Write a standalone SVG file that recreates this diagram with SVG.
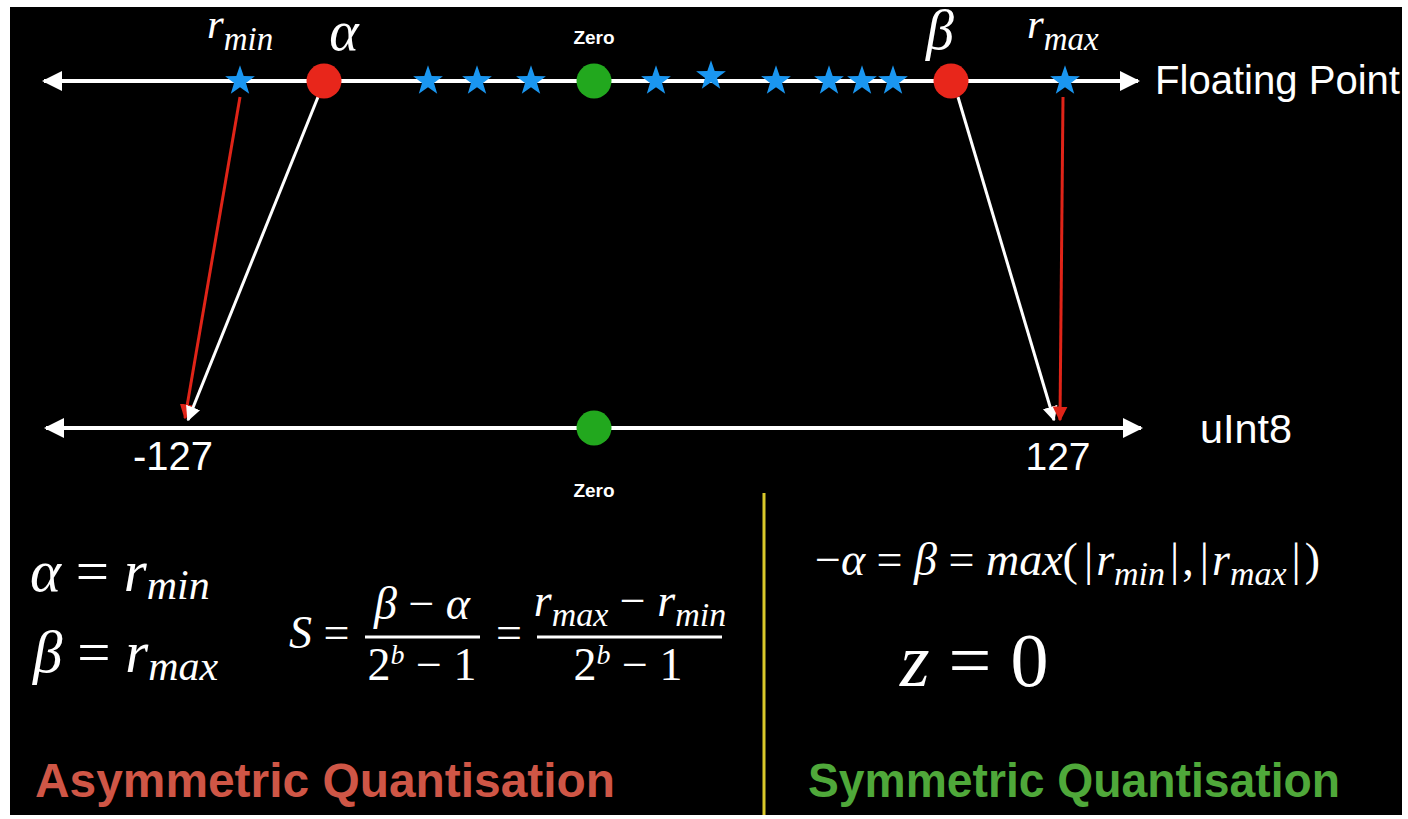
<svg xmlns="http://www.w3.org/2000/svg" width="1408" height="819" viewBox="0 0 1408 819">
<style>
.ax{stroke:#fff;stroke-width:4;fill:none}
.sans{font-family:"Liberation Sans",Arial,Helvetica,sans-serif;fill:#fff}
.math{font-family:"Liberation Serif","Times New Roman",serif;font-style:italic;fill:#fff}
.up{font-style:normal}
.star{fill:#1a96f0}
.red{fill:#e8261b}
.grn{fill:#22a81e}
.wl{stroke:#fff;stroke-width:3;fill:none}
.rl{stroke:#e02418;stroke-width:3;fill:none}
.bar{stroke:#fff;stroke-width:3}
</style>
<defs>
<path id="star" d="M0,-15.7 L3.68,-5.07 L14.9,-4.85 L5.97,1.94 L9.22,12.69 L0,6.27 L-9.22,12.69 L-5.97,1.94 L-14.9,-4.85 L-3.68,-5.07 Z"/>
<marker id="ah" viewBox="0 0 10 10" refX="9" refY="5" markerWidth="5" markerHeight="5" orient="auto-start-reverse" markerUnits="strokeWidth"><path d="M0,0 L10,5 L0,10 Z" fill="#fff"/></marker>
<marker id="ahw" viewBox="0 0 10 10" refX="9" refY="5" markerWidth="5" markerHeight="5" orient="auto" markerUnits="strokeWidth"><path d="M0,0 L10,5 L0,10 Z" fill="#fff"/></marker>
<marker id="ahr" viewBox="0 0 10 10" refX="9" refY="5" markerWidth="5" markerHeight="5" orient="auto" markerUnits="strokeWidth"><path d="M0,0 L10,5 L0,10 Z" fill="#e02418"/></marker>
</defs>
<rect x="0" y="0" width="1408" height="819" fill="#fff"/>
<rect x="10" y="7" width="1392" height="808" fill="#000"/>

<g id="float-axis">
<line class="ax" x1="44" y1="81" x2="1138" y2="81" marker-start="url(#ah)" marker-end="url(#ah)"/>
<text class="sans" x="1155" y="94" font-size="40" textLength="245" lengthAdjust="spacingAndGlyphs">Floating Point</text>
</g>
<g id="uint8-axis">
<line class="ax" x1="46" y1="428" x2="1141" y2="428" marker-start="url(#ah)" marker-end="url(#ah)"/>
<text class="sans" x="1200" y="443" font-size="41" textLength="92" lengthAdjust="spacingAndGlyphs">uInt8</text>
<text class="sans" x="173" y="470" font-size="40" text-anchor="middle">-127</text>
<text class="sans" x="1058" y="470" font-size="39" text-anchor="middle">127</text>
</g>

<g id="connectors">
<line class="rl" x1="240" y1="97" x2="185" y2="418" marker-end="url(#ahr)"/>
<line class="wl" x1="318" y1="97" x2="188" y2="420" marker-end="url(#ahw)"/>
<line class="wl" x1="958" y1="97" x2="1054" y2="420" marker-end="url(#ahw)"/>
<line class="rl" x1="1063" y1="97" x2="1060" y2="420" marker-end="url(#ahr)"/>
</g>

<g id="stars">
<use href="#star" class="star" x="240" y="81"/>
<use href="#star" class="star" x="428" y="81"/>
<use href="#star" class="star" x="477" y="81"/>
<use href="#star" class="star" x="531" y="81"/>
<use href="#star" class="star" x="656" y="81"/>
<use href="#star" class="star" x="711" y="76"/>
<use href="#star" class="star" x="776" y="81"/>
<use href="#star" class="star" x="829" y="81"/>
<use href="#star" class="star" x="862" y="81"/>
<use href="#star" class="star" x="893" y="81"/>
<use href="#star" class="star" x="1065" y="81"/>
</g>

<g id="alpha-point">
<circle class="red" cx="324" cy="81" r="17.5"/>
<text class="math" x="344" y="50" font-size="56" text-anchor="middle">α</text>
</g>
<g id="beta-point">
<circle class="red" cx="951" cy="81" r="17.5"/>
<text class="math" x="940" y="49" font-size="56" text-anchor="middle">β</text>
</g>
<g id="rmin-label">
<text class="math" x="207" y="38" font-size="43">r<tspan font-size="33" dy="12">min</tspan></text>
</g>
<g id="rmax-label">
<text class="math" x="1027" y="38" font-size="43">r<tspan font-size="33" dy="12">max</tspan></text>
</g>
<g id="zero-float">
<circle class="grn" cx="594" cy="81" r="17.5"/>
<text class="sans" x="594" y="44" font-size="19" font-weight="bold" text-anchor="middle">Zero</text>
</g>
<g id="zero-int">
<circle class="grn" cx="594" cy="428" r="17.5"/>
<text class="sans" x="594" y="497" font-size="19" font-weight="bold" text-anchor="middle">Zero</text>
</g>

<g id="asym-formulas">
<text class="math" x="30" y="591" font-size="59">α <tspan class="up">=</tspan> r<tspan font-size="42" dy="8">min</tspan></text>
<text class="math" x="33" y="672" font-size="59">β <tspan class="up">=</tspan> r<tspan font-size="42" dy="8">max</tspan></text>
<text class="math" x="289" y="648" font-size="46">S <tspan class="up">=</tspan></text>
<line class="bar" x1="365" y1="637" x2="480" y2="637"/>
<text class="math" x="422" y="619" font-size="46" text-anchor="middle">β <tspan class="up">−</tspan> α</text>
<text class="math" x="422" y="680" font-size="46" text-anchor="middle"><tspan class="up">2</tspan><tspan font-size="28" dy="-16">b</tspan><tspan class="up" dy="16"> − 1</tspan></text>
<text class="math" x="496" y="648" font-size="46"><tspan class="up">=</tspan></text>
<line class="bar" x1="537" y1="637" x2="722" y2="637"/>
<text class="math" x="630" y="616" font-size="46" text-anchor="middle">r<tspan font-size="34" dy="10">max</tspan><tspan class="up" dy="-10"> − </tspan>r<tspan font-size="34" dy="10">min</tspan></text>
<text class="math" x="628" y="680" font-size="46" text-anchor="middle"><tspan class="up">2</tspan><tspan font-size="28" dy="-16">b</tspan><tspan class="up" dy="16"> − 1</tspan></text>
</g>

<g id="divider">
<line x1="764" y1="493" x2="764" y2="815" stroke="#d9c92a" stroke-width="3"/>
</g>

<g id="sym-formulas">
<text class="math" x="815" y="575" font-size="46"><tspan class="up">−</tspan>α <tspan class="up">=</tspan> β <tspan class="up">=</tspan> max<tspan class="up">(</tspan><tspan class="up" dx="6">|</tspan><tspan dx="3">r</tspan><tspan font-size="34" dy="10">min</tspan><tspan class="up" dy="-10" dx="5">|</tspan><tspan class="up" dx="3">,</tspan><tspan class="up" dx="6">|</tspan><tspan dx="3">r</tspan><tspan font-size="34" dy="10">max</tspan><tspan class="up" dy="-10" dx="5">|</tspan><tspan class="up" dx="4">)</tspan></text>
<text class="math" x="900" y="686" font-size="76">z <tspan class="up">= 0</tspan></text>
</g>

<g id="titles">
<text class="sans" x="35" y="797" font-size="48" font-weight="bold" textLength="580" lengthAdjust="spacingAndGlyphs" style="fill:#cf5646">Asymmetric Quantisation</text>
<text class="sans" x="808" y="797" font-size="48" font-weight="bold" textLength="532" lengthAdjust="spacingAndGlyphs" style="fill:#4fa83a">Symmetric Quantisation</text>
</g>
</svg>
